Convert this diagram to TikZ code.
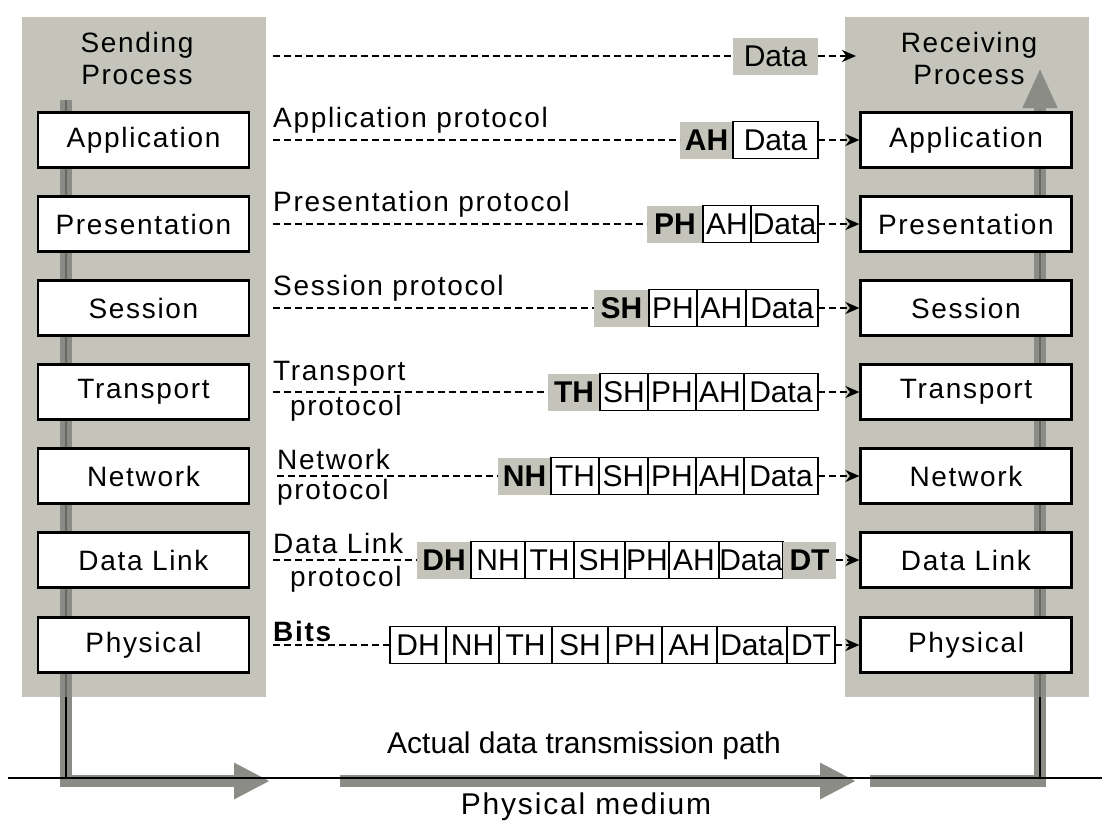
\documentclass[tikz,border=0pt]{standalone}
\usepackage{fontspec}
\setmainfont{Liberation Sans}
\newfontfamily\widefont[LetterSpace=6]{Liberation Sans}
\usetikzlibrary{arrows.meta}
\definecolor{panelgray}{RGB}{196,196,186}
\definecolor{flowgray}{RGB}{140,140,134}
\definecolor{flowdark}{RGB}{105,105,100}

\begin{document}
\begin{tikzpicture}[x=1pt,y=-1pt,
        layer/.style={draw=black,line width=2.2pt,fill=white,minimum width=211pt,minimum height=55pt,inner sep=0pt,font=\widefont\fontsize{28}{32}\selectfont},
        hdr/.style={fill=panelgray,anchor=west,minimum height=37pt,inner sep=0pt,outer sep=0pt,font=\bfseries\fontsize{30}{30}\selectfont},
        cell/.style={draw=black,line width=1.6pt,fill=white,anchor=west,minimum height=37pt,inner sep=0pt,outer sep=0pt,font=\fontsize{30}{30}\selectfont},
        proto/.style={anchor=base west,inner sep=0pt,font=\widefont\fontsize{28}{32}\selectfont},
        protoline/.style={draw=black,dash pattern=on 7pt off 4pt,line width=2pt},
        peer/.style={protoline,-{Stealth[length=14pt,width=12pt]}},
        flow/.style={draw=flowgray,line width=12pt}]
        \useasboundingbox (0,0) rectangle (1113,838);

        % the two process panels
        \fill[panelgray] (22,17) rectangle (266,697);
        \fill[panelgray] (845,17) rectangle (1089,697);

        % actual data path
        \draw[flow] (66,100) -- (66,781) -- (236,781);
        \draw[flow,-{Triangle[length=36pt,width=34pt]}] (230,781) -- (270,781);
        \draw[flow,-{Triangle[length=36pt,width=34pt]}] (340,781) -- (856,781);
        \draw[flow,-{Triangle[length=40pt,width=32pt]}] (870,781) -- (1040,781) -- (1040,68);
        \draw[flowdark,line width=2.5pt] (66,100) -- (66,697);
        \draw[flowdark,line width=2.5pt] (1040,110) -- (1040,697);
        \draw[line width=2.5pt] (66,697) -- (66,778);
        \draw[line width=2.5pt] (1040,697) -- (1040,778);
        \draw[line width=2.5pt] (8,778) -- (1102,778);

        \node[font=\fontsize{30}{32}\selectfont] (path) at (584,746) {Actual data transmission path};
        \node[font=\widefont\fontsize{30}{32}\selectfont] (medium) at (586,807) {Physical medium};

        \node[align=center,font=\widefont\fontsize{28}{32}\selectfont] (sendhd) at (137,58) {Sending\\Process};
        \node[align=center,font=\widefont\fontsize{28}{32}\selectfont] (recvhd) at (969,58) {Receiving\\Process};

        \begin{scope}[every node/.style={layer}]
            \node (sapp) at (143.5,140) {Application};
            \node (spre) at (143.5,224) {Presentation};
            \node (sses) at (143.5,308) {Session};
            \node (stra) at (143.5,392) {Transport};
            \node (snet) at (143.5,476) {Network};
            \node (sdl)  at (143.5,560) {Data Link};
            \node (sphy) at (143.5,645) {Physical};

            \node (rapp) at (966,140) {Application};
            \node (rpre) at (966,224) {Presentation};
            \node (rses) at (966,308) {Session};
            \node (rtra) at (966,392) {Transport};
            \node (rnet) at (966,476) {Network};
            \node (rdl)  at (966,560) {Data Link};
            \node (rphy) at (966,645) {Physical};
        \end{scope}

        % protocol labels
        \node[proto] (lapp) at (273,127) {Application protocol};
        \node[proto] (lpre) at (273,211) {Presentation protocol};
        \node[proto] (lses) at (273,295) {Session protocol};
        \node[proto] (ltra) at (273,380) {Transport};
        \node[proto] (ltra2) at (290,415) {protocol};
        \node[proto] (lnet) at (277,469) {Network};
        \node[proto] (lnet2) at (277,499) {protocol};
        \node[proto] (ldl) at (273,553) {Data Link};
        \node[proto] (ldl2) at (290,586) {protocol};
        \node[proto,font=\bfseries\widefont\fontsize{28}{32}\selectfont] (lbit) at (273,641) {Bits};

        % packets
        \node[hdr,font=\fontsize{30}{30}\selectfont,minimum width=85pt] (d0) at (733,56) {Data};

        \node[hdr,minimum width=53pt] (a1) at (680,140) {AH};
        \node[cell,minimum width=85pt] (d1) at (733,140) {Data};

        \node[hdr,minimum width=56pt] (p2) at (647,224) {PH};
        \node[cell,minimum width=48pt] (a2) at (703,224) {AH};
        \node[cell,minimum width=67pt] (d2) at (751,224) {Data};

        \node[hdr,minimum width=55pt] (s3) at (594,308) {SH};
        \node[cell,minimum width=48pt] (p3) at (649,308) {PH};
        \node[cell,minimum width=49pt] (a3) at (697,308) {AH};
        \node[cell,minimum width=72pt] (d3) at (746,308) {Data};

        \node[hdr,minimum width=52pt] (t4) at (548,392) {TH};
        \node[cell,minimum width=48pt] (s4) at (600,392) {SH};
        \node[cell,minimum width=48pt] (p4) at (648,392) {PH};
        \node[cell,minimum width=48pt] (a4) at (696,392) {AH};
        \node[cell,minimum width=74pt] (d4) at (744,392) {Data};

        \node[hdr,minimum width=53pt] (n5) at (498,476) {NH};
        \node[cell,minimum width=48pt] (t5) at (551,476) {TH};
        \node[cell,minimum width=49pt] (s5) at (599,476) {SH};
        \node[cell,minimum width=48pt] (p5) at (648,476) {PH};
        \node[cell,minimum width=48pt] (a5) at (696,476) {AH};
        \node[cell,minimum width=74pt] (d5) at (744,476) {Data};

        \node[hdr,minimum width=54pt] (h6) at (417,560) {DH};
        \node[cell,minimum width=54pt] (n6) at (471,560) {NH};
        \node[cell,minimum width=49pt] (t6) at (525,560) {TH};
        \node[cell,minimum width=51pt] (s6) at (574,560) {SH};
        \node[cell,minimum width=44pt] (p6) at (625,560) {PH};
        \node[cell,minimum width=50pt] (a6) at (669,560) {AH};
        \node[cell,minimum width=64pt] (d6) at (719,560) {Data};
        \node[hdr,minimum width=53pt] (e6) at (783,560) {DT};

        \node[cell,minimum width=56pt] (h7) at (390,645) {DH};
        \node[cell,minimum width=53pt] (n7) at (446,645) {NH};
        \node[cell,minimum width=53pt] (t7) at (499,645) {TH};
        \node[cell,minimum width=56pt] (s7) at (552,645) {SH};
        \node[cell,minimum width=54pt] (p7) at (608,645) {PH};
        \node[cell,minimum width=55pt] (a7) at (662,645) {AH};
        \node[cell,minimum width=70pt] (d7) at (717,645) {Data};
        \node[cell,minimum width=48pt] (e7) at (787,645) {DT};

        % peer connectors
        \coordinate (c0) at (273,56);
        \coordinate (c1) at (273,140);
        \coordinate (c2) at (273,224);
        \coordinate (c3) at (273,308);
        \coordinate (c4) at (273,392);
        \coordinate (c5) at (277,476);
        \coordinate (c6) at (273,560);
        \coordinate (c7) at (273,645);
        \coordinate (rhd) at (856,56);

        \draw [protoline] (c0) -- (d0.west);
        \draw [protoline] (c1) -- (a1.west);
        \draw [protoline] (c2) -- (p2.west);
        \draw [protoline] (c3) -- (s3.west);
        \draw [protoline] (c4) -- (t4.west);
        \draw [protoline] (c5) -- (n5.west);
        \draw [protoline] (c6) -- (h6.west);
        \draw [protoline] (c7) -- (h7.west);

        \draw [peer] (d0.east) -- (rhd);
        \draw [peer] (d1.east) -- (rapp.west);
        \draw [peer] (d2.east) -- (rpre.west);
        \draw [peer] (d3.east) -- (rses.west);
        \draw [peer] (d4.east) -- (rtra.west);
        \draw [peer] (d5.east) -- (rnet.west);
        \draw [peer] (e6.east) -- (rdl.west);
        \draw [peer] (e7.east) -- (rphy.west);
    \end{tikzpicture}
\end{document}
